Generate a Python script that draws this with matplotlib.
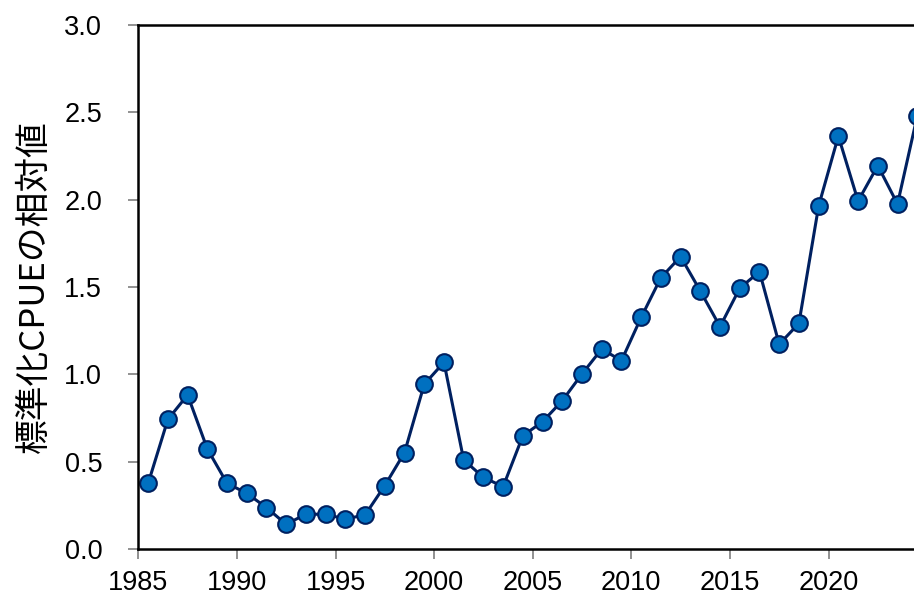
import matplotlib.pyplot as plt

plt.rcParams['font.family'] = ['Liberation Sans', 'Noto Sans CJK JP', 'DejaVu Sans']

years = [1985.5 + i for i in range(40)]
cpue = [0.376, 0.742, 0.882, 0.573, 0.376, 0.319, 0.237, 0.141, 0.200, 0.198,
        0.172, 0.195, 0.363, 0.552, 0.943, 1.069, 0.510, 0.410, 0.357, 0.648,
        0.729, 0.849, 1.002, 1.145, 1.078, 1.326, 1.553, 1.674, 1.477, 1.273,
        1.493, 1.588, 1.172, 1.292, 1.964, 2.364, 1.992, 2.195, 1.975, 2.479]
xticks = [1985, 1990, 1995, 2000, 2005, 2010, 2015, 2020]
yticks = [0.0, 0.5, 1.0, 1.5, 2.0, 2.5, 3.0]

W, H = 914, 597
fig = plt.figure(figsize=(W / 100, H / 100), dpi=100)
# axes run past the right edge of the picture, as in the original crop
px_per_year = 19.72
left, bottom, top = 138.3, 48, 25
width = 41 * px_per_year
ax = fig.add_axes([left / W, bottom / H, width / W, (H - bottom - top) / H])

ax.plot(years, cpue, color='#002060', linewidth=2.2, marker='o', markersize=12,
        markerfacecolor='#0070C0', markeredgecolor='#002060', markeredgewidth=1.5)

ax.set_xlim(1985, 2026)
ax.set_ylim(0, 3.0)
ax.set_xticks(xticks)
ax.set_yticks(yticks)
ax.set_yticklabels([f'{v:.1f}' for v in yticks])

for side in ('left', 'top', 'bottom'):
    ax.spines[side].set_linewidth(1.8)
    ax.spines[side].set_color('black')
ax.spines['right'].set_visible(False)

ax.tick_params(axis='both', direction='out', length=7, width=1.2, color='#7f7f7f',
               labelsize=19.5, labelcolor='black')
ax.tick_params(axis='y', pad=19)
ax.tick_params(axis='x', pad=8)

ax.set_ylabel('標準化CPUEの相対値', fontsize=25,
              family=['Noto Sans CJK JP', 'Liberation Sans'], labelpad=9)

fig.savefig('out.png', dpi=100)
